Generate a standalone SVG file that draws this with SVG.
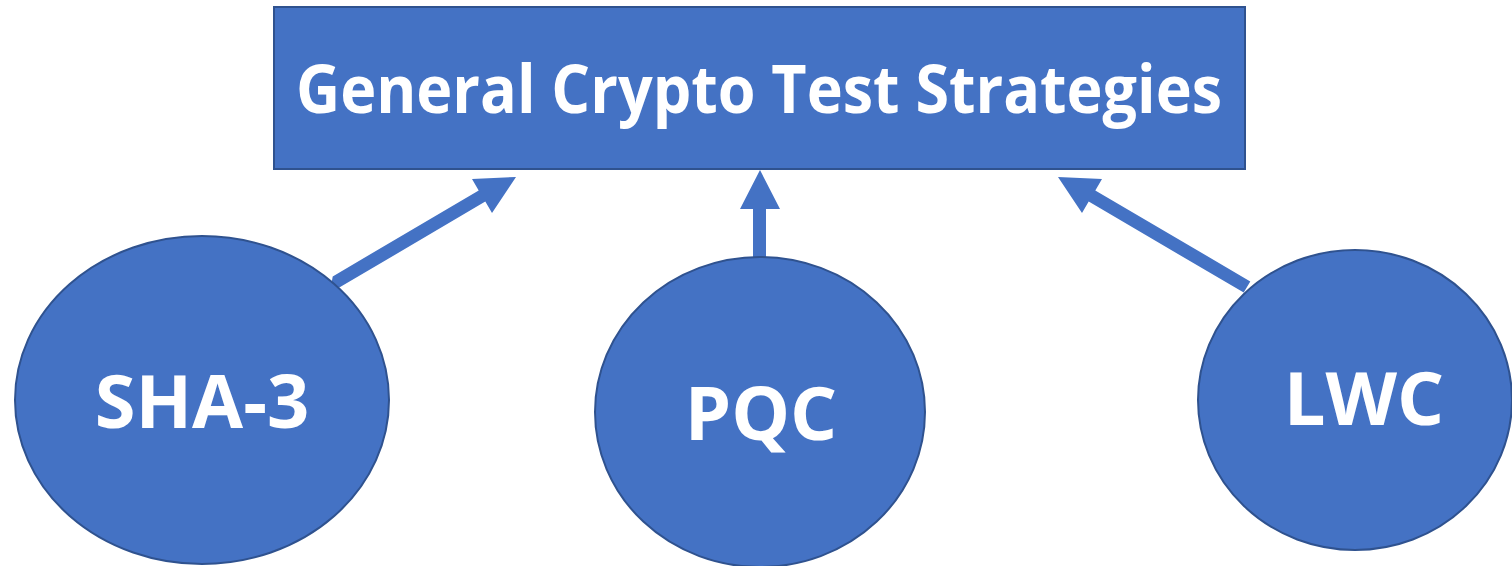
<svg xmlns="http://www.w3.org/2000/svg" width="1512" height="566" viewBox="0 0 1512 566">
<style>
.shape{fill:#4472C4;stroke:#2F528F;stroke-width:2}
.arrow{fill:#4472C4;stroke:none}
.lbl{font-family:"Open Sans","Liberation Sans",sans-serif;font-weight:bold;fill:#FFFFFF;text-anchor:middle}
</style>
<rect width="1512" height="566" fill="#FFFFFF"/>
<g id="connectors">
<polygon class="arrow" points="332.7,276.4 478.7,190.4 472,179 516,177 492,213 485.3,201.6 339.3,287.6 330,292"/>
<polygon class="arrow" points="753,265 753,209 740,209 760,170 780,209 766,209 766,265"/>
<polygon class="arrow" points="1095.3,190.4 1102,179 1058,177 1082,213 1088.7,201.6 1243.7,292.6 1250.3,281.4"/>
</g>
<g id="node-top">
<rect class="shape" x="274" y="7" width="971" height="162"/>
<text class="lbl" x="759" y="113" font-size="66" textLength="926" lengthAdjust="spacingAndGlyphs">General Crypto Test Strategies</text>
</g>
<g id="node-sha3">
<ellipse class="shape" cx="202" cy="400" rx="187" ry="164"/>
<text class="lbl" x="202" y="428" font-size="74">SHA-3</text>
</g>
<g id="node-pqc">
<ellipse class="shape" cx="760" cy="412" rx="165" ry="155"/>
<text class="lbl" x="761" y="440" font-size="74">PQC</text>
</g>
<g id="node-lwc">
<ellipse class="shape" cx="1355" cy="400" rx="157" ry="150"/>
<text class="lbl" x="1364" y="425" font-size="74">LWC</text>
</g>
</svg>
